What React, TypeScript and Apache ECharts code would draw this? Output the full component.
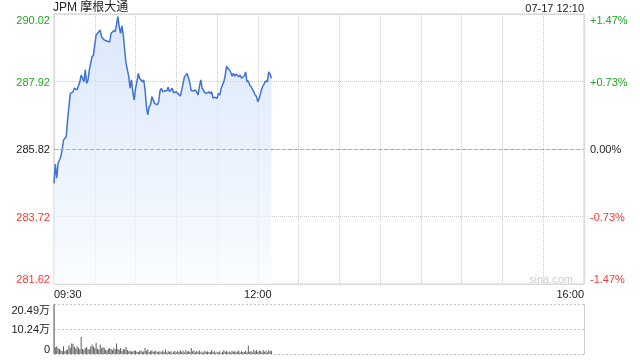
import React, { useEffect, useRef } from "react";
import * as echarts from "echarts";

const TITLE = "JPM 摩根大通";
const DATE_TEXT = "07-17 12:10";
const PREV_CLOSE = 285.82;

// minutes since 09:30
const priceMinutes = [
  0, 1, 2, 3, 5, 6, 7, 9, 10, 11, 12, 14, 15, 17, 19, 20, 22, 23, 24, 25, 26, 28, 29, 30, 31, 33, 34, 35, 37, 39,
  41, 42, 44, 45, 46, 47, 48, 49, 50, 51, 52, 53, 55, 56, 57, 58, 59, 60, 61, 62, 63, 65, 66, 67, 68, 69, 70, 71,
  72, 74, 76, 77, 78, 79, 80, 82, 83, 84, 85, 87, 88, 90, 91, 93, 94, 95, 96, 98, 99, 100, 101, 103, 104, 105,
  106, 107, 108, 109, 111, 112, 114, 115, 116, 117, 118, 120, 121, 122, 123, 125, 126, 127, 128, 130, 131, 132,
  133, 134, 136, 137, 138, 140, 141, 142, 143, 144, 145, 147, 148, 149, 150, 151, 152, 153, 155, 156, 157, 158,
  159, 160,
];
const prices = [
  284.75, 285.35, 284.91, 285.37, 285.58, 285.79, 286.1, 286.2, 286.72, 287.14, 287.55, 287.6, 287.71, 287.66,
  287.91, 288.12, 287.91, 288.28, 287.86, 287.97, 288.28, 288.69, 288.74, 289.06, 289.37, 289.47, 289.52, 289.31,
  289.21, 289.18, 289.15, 289.42, 289.5, 289.47, 289.68, 289.94, 289.62, 289.42, 289.65, 289.37, 288.9, 288.49,
  288.07, 287.71, 287.97, 287.6, 287.34, 287.71, 287.91, 288.17, 288.02, 287.91, 287.97, 287.66, 287.14, 286.88,
  287.14, 287.19, 287.45, 287.24, 287.19, 287.29, 287.63, 287.71, 287.6, 287.63, 287.63, 287.74, 287.6, 287.71,
  287.57, 287.6, 287.55, 287.47, 287.66, 287.86, 288.07, 288.17, 288.02, 287.86, 287.63, 287.63, 287.66, 287.6,
  287.5, 287.76, 287.97, 287.71, 287.57, 287.55, 287.6, 287.55, 287.6, 287.4, 287.43, 287.4, 287.55, 287.5, 287.71,
  287.91, 288.12, 288.4, 288.33, 288.22, 288.09, 288.17, 288.09, 288.15, 288.07, 288.12, 288.02, 288.09, 288.22,
  287.91, 287.94, 287.81, 287.76, 287.6, 287.5, 287.45, 287.29, 287.4, 287.55, 287.71, 287.88, 287.94, 287.91,
  288.22, 288.15, 288.02,
];

// volume per minute (万股), minute 0 .. 160
const volumes = [
  20.4, 2.8, 3.2, 2.5, 2.0, 1.5, 1.2, 3.2, 1.1, 1.6, 1.8, 3.5, 2.6, 4.3, 4.2, 3.0, 2.2, 3.2, 2.5, 1.9,
  7.0, 2.1, 1.7, 2.5, 2.9, 2.0, 1.8, 3.0, 3.9, 3.2, 2.4, 4.5, 2.2, 1.8, 3.9, 2.4, 2.8, 2.5, 1.6, 1.4,
  2.0, 2.5, 2.1, 1.5, 2.5, 1.9, 4.3, 2.1, 1.7, 2.5, 1.3, 2.1, 1.8, 2.9, 1.6, 1.1, 1.4, 0.9, 1.1, 1.3,
  1.4, 0.9, 0.8, 1.2, 1.5, 0.9, 1.1, 2.5, 1.3, 1.8, 0.8, 1.1, 1.5, 0.9, 1.1, 1.3, 0.8, 1.0, 1.1, 0.7,
  1.4, 0.9, 1.8, 0.6, 1.2, 0.8, 1.1, 0.5, 1.0, 1.2, 0.7, 1.3, 0.8, 1.5, 0.9, 1.3, 0.6, 1.6, 0.9, 1.2,
  0.8, 2.5, 1.1, 1.5, 0.7, 1.2, 0.9, 1.4, 0.6, 1.0, 0.5, 1.3, 0.8, 1.1, 0.7, 0.9, 1.6, 0.8, 1.2, 0.5,
  0.9, 0.6, 1.1, 0.4, 0.8, 1.6, 0.9, 1.2, 0.7, 1.0, 0.6, 1.3, 0.9, 1.2, 0.7, 1.0, 1.4, 0.6, 1.1, 0.8,
  0.9, 1.3, 0.7, 3.5, 0.9, 1.2, 0.6, 1.7, 1.1, 1.6, 0.8, 1.4, 1.2, 0.7, 1.5, 0.9, 1.3, 0.6, 1.5, 1.1,
  1.3,
];

const priceTickLabels = ["281.62", "283.72", "285.82", "287.92", "290.02"];
const pctTickLabels = ["-1.47%", "-0.73%", "0.00%", "+0.73%", "+1.47%"];
const tickClasses = ["r", "r", "k", "g", "g"];
const volTickLabels = ["0", "10.24万", "20.49万"];
const timeTickValues = [0, 150, 390];
const timeTickLabels = ["09:30", "12:00", "16:00"];

const GREEN = "#22a822";
const RED = "#f03a32";
const FONT = 'Arial, "Liberation Sans", "Noto Sans CJK SC", sans-serif';

export default function App() {
  const ref = useRef<HTMLDivElement>(null);
  useEffect(() => {
    if (!ref.current) return;
    const chart = echarts.init(ref.current, null, { renderer: "svg" });
    const rich = {
      r: { color: RED, fontSize: 11, fontFamily: FONT },
      g: { color: GREEN, fontSize: 11, fontFamily: FONT },
      k: { color: "#222", fontSize: 11, fontFamily: FONT },
    };
    const gridLine = { show: true, lineStyle: { color: "#cccccc", type: "dotted" as const, width: 1 } };
    chart.setOption({
      animation: false,
      textStyle: { fontFamily: FONT },
      title: [
        { text: TITLE, left: 53, top: 0, padding: 0, textStyle: { fontSize: 12, fontWeight: "normal", color: "#222", fontFamily: FONT, lineHeight: 14 } },
        { text: DATE_TEXT, right: 56, top: 1, padding: 0, textStyle: { fontSize: 11, fontWeight: "normal", color: "#222", fontFamily: FONT, lineHeight: 13 } },
      ],
      graphic: [
        { type: "text", right: 67, top: 273, silent: true, style: { text: "sina.com", fill: "#cfcfcf", font: "11px " + FONT } },
      ],
      grid: [
        { left: 54, right: 56, top: 14, height: 270, show: true, borderColor: "#cfcfcf", borderWidth: 1, backgroundColor: "transparent" },
        { left: 54, right: 56, top: 304, height: 50, show: false },
      ],
      xAxis: [
        {
          type: "value", gridIndex: 0, min: 0, max: 390, interval: 30,
          axisLine: { show: false }, axisTick: { show: false },
          splitLine: gridLine,
          axisLabel: {
            margin: 4, fontSize: 11, color: "#222", fontFamily: FONT,
            alignMinLabel: "left", alignMaxLabel: "right",
            formatter: (v: number) => {
              const k = timeTickValues.indexOf(Math.round(v));
              return k >= 0 ? timeTickLabels[k] : "";
            },
          },
        },
        {
          type: "value", gridIndex: 1, min: 0, max: 390, interval: 30,
          axisLine: { show: false }, axisTick: { show: false }, splitLine: { show: false }, axisLabel: { show: false },
        },
      ],
      yAxis: [
        {
          type: "value", gridIndex: 0, min: -4.2, max: 4.2, interval: 2.1, position: "left",
          axisLine: { show: false }, axisTick: { show: false },
          splitLine: gridLine,
          axisLabel: {
            margin: 4, verticalAlignMinLabel: "bottom", verticalAlignMaxLabel: "top",
            formatter: (_v: number, i: number) => `{${tickClasses[i]}|${priceTickLabels[i]}}`,
            rich,
          },
        },
        {
          type: "value", gridIndex: 0, min: -4.2, max: 4.2, interval: 2.1, position: "right",
          axisLine: { show: false }, axisTick: { show: false }, splitLine: { show: false },
          axisLabel: {
            margin: 6, verticalAlignMinLabel: "bottom", verticalAlignMaxLabel: "top",
            formatter: (_v: number, i: number) => `{${tickClasses[i]}|${pctTickLabels[i]}}`,
            rich,
          },
        },
        {
          type: "value", gridIndex: 1, min: 0, max: 20.49, interval: 10.245, position: "left",
          axisLine: { show: true, lineStyle: { color: "#cfcfcf" } }, axisTick: { show: false },
          splitLine: { show: true, lineStyle: { color: "#c4c4c4", type: [2, 2], width: 1 } },
          axisLabel: {
            margin: 4, fontSize: 11, color: "#222", fontFamily: FONT,
            verticalAlignMinLabel: "bottom", verticalAlignMaxLabel: "top",
            formatter: (_v: number, i: number) => volTickLabels[i],
          },
        },
        {
          type: "value", gridIndex: 1, min: 0, max: 20.49, interval: 10.245, position: "right",
          axisLine: { show: true, lineStyle: { color: "#cfcfcf" } }, axisTick: { show: false },
          splitLine: { show: false }, axisLabel: { show: false },
        },
      ],
      series: [
        {
          type: "line", xAxisIndex: 0, yAxisIndex: 0,
          data: priceMinutes.map((m, i) => [m, +(prices[i] - PREV_CLOSE).toFixed(2)]),
          showSymbol: false, symbol: "none", smooth: false,
          lineStyle: { color: "#3f73d4", width: 1.5 },
          areaStyle: {
            origin: "start",
            color: new echarts.graphic.LinearGradient(0, 0, 0, 1, [
              { offset: 0, color: "rgb(204,222,248)" },
              { offset: 0.5, color: "rgb(225,236,252)" },
              { offset: 1, color: "rgb(248,251,255)" },
            ]),
          },
          markLine: {
            silent: true, symbol: "none", label: { show: false },
            lineStyle: { color: "#b0b0b0", type: [4, 2], width: 1 },
            data: [{ yAxis: 0 }],
          },
        },
        {
          type: "bar", xAxisIndex: 1, yAxisIndex: 2,
          data: volumes.map((v, i) => [i, v]),
          barWidth: 1,
          itemStyle: { color: "#5e5e5e" },
        },
      ],
    });
    return () => chart.dispose();
  }, []);
  return <div ref={ref} style={{ position: "fixed", left: 0, top: 0, width: 640, height: 360 }} />;
}
